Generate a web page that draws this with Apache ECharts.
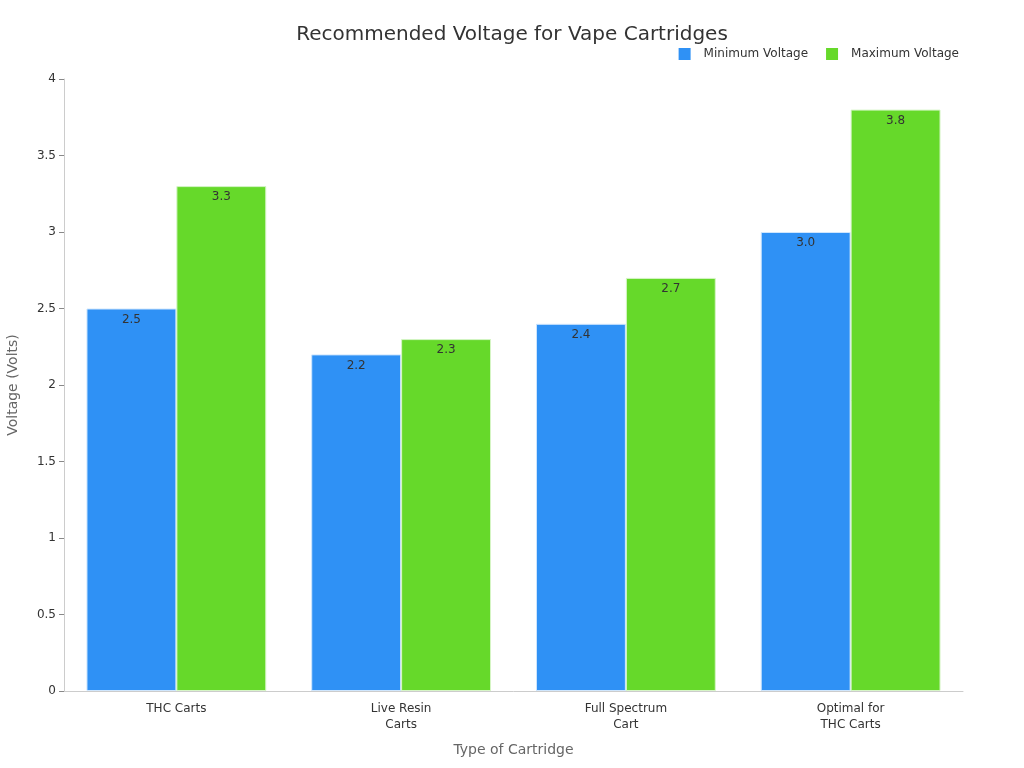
<!DOCTYPE html>
<html><head><meta charset="utf-8">
<script src="https://cdn.jsdelivr.net/npm/echarts@6/dist/echarts.min.js"></script>
<style>html,body{margin:0;padding:0;background:#fff}#c{width:1024px;height:768px}</style>
</head><body><div id="c"></div>
<script>
const categories = ['THC Carts', 'Live Resin\nCarts', 'Full Spectrum\nCart', 'Optimal for\nTHC Carts'];
const minVoltage = [2.5, 2.2, 2.4, 3.0];
const maxVoltage = [3.3, 2.3, 2.7, 3.8];
const yTicks = [0, 0.5, 1, 1.5, 2, 2.5, 3, 3.5, 4];

const chart = echarts.init(document.getElementById('c'));
const font = 'DejaVu Sans';
const lbl = {show: true, position: 'insideTop', distance: 5, color: '#333', fontSize: 12, fontFamily: font,
  formatter: p => p.value.toFixed(1)};
chart.setOption({
  animation: false,
  textStyle: {fontFamily: font},
  title: {text: 'Recommended Voltage for Vape Cartridges', left: 'center', top: 20,
    textStyle: {fontSize: 20, fontWeight: 'normal', color: '#333', fontFamily: font}},
  legend: {right: 60, top: 43, itemWidth: 12, itemHeight: 12, itemGap: 18,
    icon: 'rect', itemStyle: {borderWidth: 0},
    textStyle: {fontSize: 12, color: '#333', fontFamily: font, padding: [0, 0, 0, 8]},
    data: ['Minimum Voltage', 'Maximum Voltage']},
  grid: {left: 64, right: 61, top: 79, bottom: 77, outerBoundsMode: 'none', containLabel: false},
  xAxis: {type: 'category', data: categories, name: 'Type of Cartridge', nameLocation: 'middle', nameGap: 52,
    nameTextStyle: {fontSize: 14, color: '#666', fontFamily: font},
    axisLine: {lineStyle: {color: '#ccc'}}, axisTick: {alignWithLabel: true, lineStyle: {color: '#666'}, length: 5},
    axisLabel: {color: '#333', fontSize: 12, fontFamily: font, interval: 0, margin: 10, lineHeight: 16}},
  yAxis: {type: 'value', min: yTicks[0], max: yTicks[yTicks.length - 1], interval: 0.5,
    name: 'Voltage (Volts)', nameLocation: 'middle', nameGap: 44,
    nameTextStyle: {fontSize: 14, color: '#666', fontFamily: font},
    axisLine: {show: true, lineStyle: {color: '#ccc'}}, axisTick: {show: true, lineStyle: {color: '#888'}, length: 5},
    splitLine: {show: false},
    axisLabel: {color: '#333', fontSize: 12, fontFamily: font, margin: 8}},
  series: [
    {name: 'Minimum Voltage', type: 'bar', data: minVoltage, barGap: '0%', barCategoryGap: '20%',
      itemStyle: {color: '#2f91f5', borderColor: '#cfe6fd', borderWidth: 1}, label: lbl},
    {name: 'Maximum Voltage', type: 'bar', data: maxVoltage,
      itemStyle: {color: '#66d92a', borderColor: '#d6f5c6', borderWidth: 1}, label: lbl}
  ]
});
</script></body></html>
